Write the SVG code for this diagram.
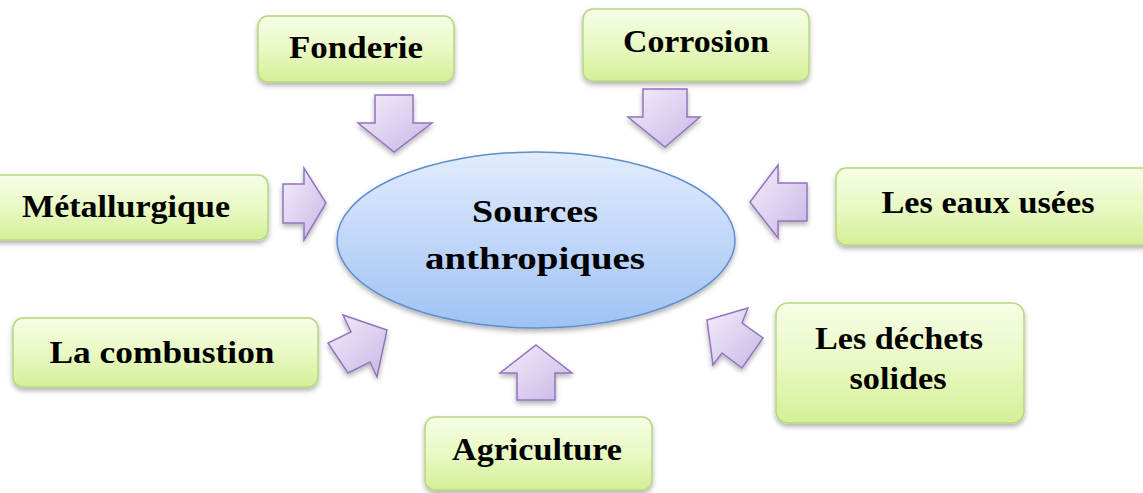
<svg xmlns="http://www.w3.org/2000/svg" width="1143" height="493" viewBox="0 0 1143 493">
<defs>
<linearGradient id="gBox" x1="0" y1="0" x2="0" y2="1">
<stop offset="0" stop-color="#f6fde6"/>
<stop offset="0.5" stop-color="#e9f9c4"/>
<stop offset="1" stop-color="#d4ef97"/>
</linearGradient>
<linearGradient id="gEll" x1="0" y1="0" x2="0" y2="1">
<stop offset="0" stop-color="#e2ecfd"/>
<stop offset="1" stop-color="#9fc2f4"/>
</linearGradient>
<linearGradient id="gArr" x1="0" y1="0" x2="1" y2="1">
<stop offset="0" stop-color="#f3eefb"/>
<stop offset="1" stop-color="#c9b6e6"/>
</linearGradient>
<filter id="sh" x="-10%" y="-10%" width="120%" height="130%">
<feDropShadow dx="0" dy="3" stdDeviation="2.5" flood-color="#000" flood-opacity="0.3"/>
</filter>
</defs>
<style>
.box{fill:url(#gBox);stroke:#b7d77d;stroke-width:1.5;filter:url(#sh)}
.ell{fill:url(#gEll);stroke:#5d8fcc;stroke-width:1.5;filter:url(#sh)}
.arr{fill:url(#gArr);stroke:#9274bf;stroke-width:1.5;stroke-linejoin:miter;filter:url(#sh)}
.t{font-family:"Liberation Serif","Times New Roman",serif;font-weight:bold;font-size:31px;fill:#000;text-anchor:middle}
</style>
<rect width="1143" height="493" fill="#fff"/>

<g id="connectors">
<polygon class="arr" points="375,95 413,95 413,123 432,123 394,152 358,123 375,123"/>
<polygon class="arr" points="643,89 687,89 687,117 700,117 665,147 628,117 643,117"/>
<polygon class="arr" points="283,184 304,184 304,168 326,203 304,240 304,223 283,223"/>
<polygon class="arr" points="807,183 778,183 778,165 750,202 778,238 778,221 807,221"/>
<polygon class="arr" points="343,315 387,330 377,377 370,362 348,373 328,343 351,332"/>
<polygon class="arr" points="748,308 707,320 713,365 722,353 742,368 763,338 742,323"/>
<polygon class="arr" points="536,345 572,373 555,373 555,400 517,400 517,373 500,373"/>
</g>

<g id="center">
<ellipse class="ell" cx="536" cy="240" rx="199" ry="88"/>
<text class="t" x="535" y="222" font-size="33" textLength="126" lengthAdjust="spacingAndGlyphs">Sources</text>
<text class="t" x="535" y="269" font-size="33" textLength="220" lengthAdjust="spacingAndGlyphs">anthropiques</text>
</g>

<g id="fonderie">
<rect class="box" x="258" y="16" width="196" height="66" rx="10"/>
<text class="t" x="356" y="58" textLength="134" lengthAdjust="spacingAndGlyphs">Fonderie</text>
</g>

<g id="corrosion">
<rect class="box" x="583" y="9" width="226" height="72" rx="10"/>
<text class="t" x="696" y="52" textLength="146" lengthAdjust="spacingAndGlyphs">Corrosion</text>
</g>

<g id="metallurgique">
<rect class="box" x="-10" y="175" width="278" height="65" rx="10"/>
<text class="t" x="126" y="217" textLength="208" lengthAdjust="spacingAndGlyphs">Métallurgique</text>
</g>

<g id="eaux">
<rect class="box" x="836" y="168" width="316" height="77" rx="10"/>
<text class="t" x="988" y="213" font-size="30" textLength="213" lengthAdjust="spacingAndGlyphs">Les eaux usées</text>
</g>

<g id="combustion">
<rect class="box" x="13" y="318" width="305" height="69" rx="10"/>
<text class="t" x="162" y="363" textLength="225" lengthAdjust="spacingAndGlyphs">La combustion</text>
</g>

<g id="dechets">
<rect class="box" x="776" y="303" width="248" height="120" rx="12"/>
<text class="t" x="899" y="349" textLength="168" lengthAdjust="spacingAndGlyphs">Les déchets</text>
<text class="t" x="898" y="389" textLength="97" lengthAdjust="spacingAndGlyphs">solides</text>
</g>

<g id="agriculture">
<rect class="box" x="425" y="417" width="227" height="73" rx="10"/>
<text class="t" x="537" y="460" textLength="170" lengthAdjust="spacingAndGlyphs">Agriculture</text>
</g>
</svg>
